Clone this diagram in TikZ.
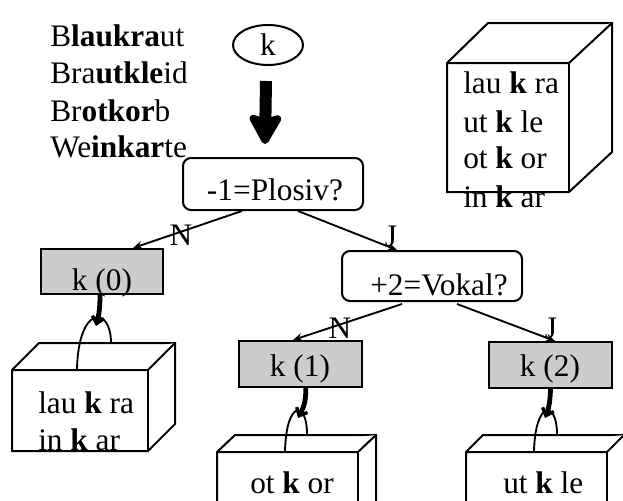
\documentclass[tikz,border=0pt]{standalone}
\usepackage{fontspec}
\setmainfont{Liberation Serif}
\usetikzlibrary{arrows.meta,shapes.geometric}
\begin{document}
\begin{tikzpicture}[x=0.75pt,y=-0.75pt,
  txt/.style={inner sep=0pt,font=\fontsize{23.5}{28}\selectfont},
  lbl/.style={txt,anchor=base west},
  ctr/.style={txt,anchor=base},
  qbox/.style={draw,line width=1.5pt,rounded corners=6pt,minimum width=135pt,inner sep=0pt},
  kbox/.style={draw,line width=1.5pt,fill=gray!40,minimum width=92pt,minimum height=34.5pt,inner sep=0pt},
  conn/.style={line width=1.4pt,-{Stealth[length=7pt,width=6pt]}},
  hang/.style={line width=3.6pt,-{Straight Barb[length=5pt,width=9pt,line width=2.5pt]}},
  cube/.style={line width=1.5pt,fill=white,line join=miter},
  arch/.style={line width=1.4pt},
  bigarrow/.style={line width=9pt,-{Stealth[length=26pt,width=28.5pt,inset=4pt,round]}}
]
\useasboundingbox (0,0) rectangle (623,500);
\clip (0,0) rectangle (623,500);

% left word list
\node[lbl] (w1) at (50,46) {B\textbf{laukra}ut};
\node[lbl] (w2) at (50,83) {Bra\textbf{utkle}id};
\node[lbl] (w3) at (50,121) {Br\textbf{otkor}b};
\node[lbl] (w4) at (50,157) {We\textbf{inkar}te};

% top node
\node[ellipse,draw,line width=1.5pt,minimum width=52.5pt,minimum height=30pt,inner sep=0pt,font=\fontsize{23.5}{28}\selectfont] (ell) at (268,45) {k};

% decision boxes
\node[qbox,minimum height=39pt] (plosiv) at (273,184) {};
\node[ctr] (plosivt) at (275,200) {-1=Plosiv?};
\node[qbox,minimum height=37.5pt] (vokal) at (432,276) {};
\node[ctr] (vokalt) at (439,295) {+2=Vokal?};

% leaf boxes
\node[kbox,minimum width=91.5pt,minimum height=33.75pt] (k0) at (102,271.5) {};
\node[ctr] (k0t) at (102,290) {k (0)};
\node[kbox] (k1) at (300.5,364) {};
\node[ctr] (k1t) at (300,376) {k (1)};
\node[kbox] (k2) at (550.5,365) {};
\node[ctr] (k2t) at (550,376) {k (2)};

% big arrow
\draw[bigarrow] ([xshift=-1.5pt,yshift=-11.25pt]ell.south) -- ([xshift=-6pt,yshift=9.75pt]plosiv.north);

% connectors
\draw[conn] ([xshift=-23.25pt]plosiv.south) -- ([xshift=23.25pt]k0.north);
\draw[conn] ([xshift=18.75pt]plosiv.south) -- ([xshift=-26.25pt]vokal.north);
\draw[conn] ([xshift=-22.5pt,yshift=-1.5pt]vokal.south) -- ([xshift=-5.6pt]k1.north);
\draw[conn] ([xshift=18.75pt,yshift=-1.5pt]vokal.south) -- ([xshift=3.4pt]k2.north);

% edge labels
\node[ctr] (n1) at (181,245) {N};
\node[ctr] (j1) at (391,246) {J};
\node[ctr] (n2) at (340,338) {N};
\node[ctr] (j2) at (551,338) {J};

% top right cube
\draw[cube] (447,63) -- (488,23) -- (612,23) -- (612,152) -- (569,192) -- (447,192) -- cycle;
\draw[cube] (447,63) -- (569,63) -- (612,23);
\draw[cube] (569,63) -- (569,192);
\node[lbl] (c1a) at (463,93) {lau \textbf{k} ra};
\node[lbl] (c1b) at (463,132) {ut \textbf{k} le};
\node[lbl] (c1c) at (463,168) {ot \textbf{k} or};
\node[lbl] (c1d) at (463,207) {in \textbf{k} ar};

% lower left cube
\draw[cube] (12,370) -- (39,343) -- (175,343) -- (175,424) -- (148,451) -- (12,451) -- cycle;
\draw[cube] (12,370) -- (148,370) -- (175,343);
\draw[cube] (148,370) -- (148,451);
\node[lbl] (c2a) at (38,413) {lau \textbf{k} ra};
\node[lbl] (c2b) at (38,450) {in \textbf{k} ar};
\coordinate (a0) at (96,326);
\draw[arch] (77,370) .. controls (78,305) and (111,305) .. (111,343);

% lower middle cube
\draw[cube] (217,452) -- (235,435) -- (376,435) -- (376,513) -- (358,530) -- (217,530) -- cycle;
\draw[cube] (217,452) -- (358,452) -- (376,435);
\draw[cube] (358,452) -- (358,530);
\node[lbl] (c3a) at (250,493) {ot \textbf{k} or};
\coordinate (a1) at (298,418);
\draw[arch] (285,452) .. controls (286,400) and (307,400) .. (307,434);

% lower right cube
\draw[cube] (466,452) -- (483,435) -- (624,435) -- (624,513) -- (607,530) -- (466,530) -- cycle;
\draw[cube] (466,452) -- (607,452) -- (624,435);
\draw[cube] (607,452) -- (607,530);
\node[lbl] (c4a) at (503,493) {ut \textbf{k} le};
\coordinate (a2) at (545,418);
\draw[arch] (534,452) .. controls (535,400) and (557,400) .. (557,434);

% hanging connectors
\draw[hang] ([xshift=-1.5pt]k0.south) .. controls (100,312) and (98,318) .. (a0);
\draw[hang] ([xshift=4pt]k1.south) .. controls (306,405) and (302,410) .. (a1);
\draw[hang] (k2.south) .. controls (550,405) and (548,410) .. (a2);
\end{tikzpicture}
\end{document}
